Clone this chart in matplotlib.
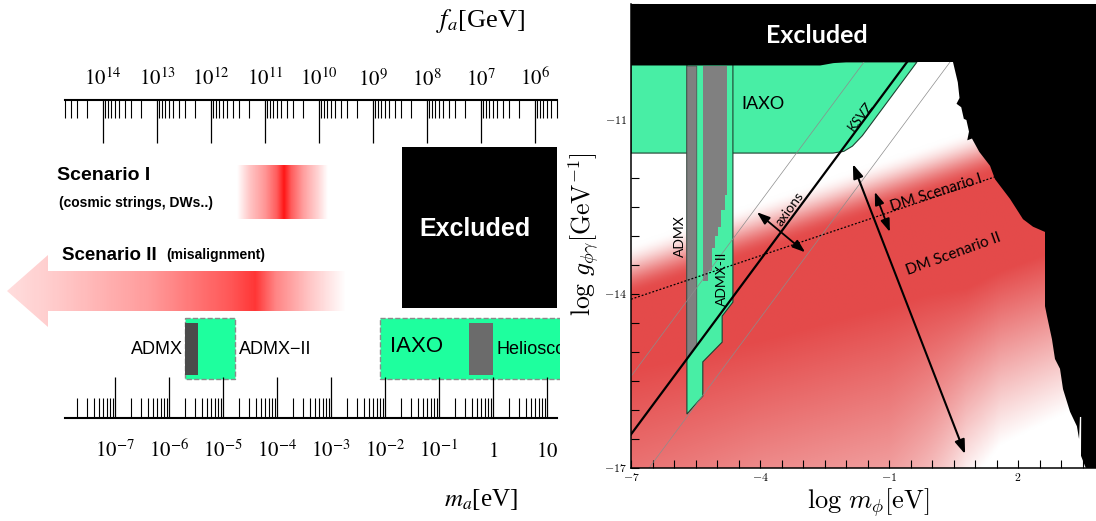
import numpy as np
import matplotlib
matplotlib.use('Agg')
import matplotlib.pyplot as plt
from matplotlib.patches import Polygon, Rectangle
from matplotlib.ticker import LogLocator, MultipleLocator, NullFormatter

plt.rcParams['font.family'] = ['Liberation Serif', 'DejaVu Serif']
plt.rcParams['mathtext.fontset'] = 'stix'

W, H = 1096, 521
SANS = ['Liberation Sans', 'DejaVu Sans']
GEO = ['Lato', 'DejaVu Sans']

# ---------------- left panel data (log10 of m_a in eV) ----------------
ma_ticks = [1e-7, 1e-6, 1e-5, 1e-4, 1e-3, 1e-2, 1e-1, 1, 10]
ma_labels = [r'$10^{-7}$', r'$10^{-6}$', r'$10^{-5}$', r'$10^{-4}$', r'$10^{-3}$',
             r'$10^{-2}$', r'$10^{-1}$', r'$1$', r'$10$']
fa_ticks = [1e14, 1e13, 1e12, 1e11, 1e10, 1e9, 1e8, 1e7, 1e6]
fa_labels = [r'$10^{14}$', r'$10^{13}$', r'$10^{12}$', r'$10^{11}$', r'$10^{10}$',
             r'$10^{9}$', r'$10^{8}$', r'$10^{7}$', r'$10^{6}$']
fa_ma = 6.0e6  # f_a[GeV] * m_a[eV]

admx_rng = (-5.70, -4.78)
admx_done = (-5.70, -5.46)
iaxo_rng = (-2.09, 1.40)
helio_done = (-0.44, 0.0)
excl_rng = (-1.685, 1.19)
scen1_x = [-4.74, -4.50, -4.22, -4.00, -3.87, -3.74, -3.52, -3.24, -3.06]
scen1_a = [0.0, 0.25, 0.45, 0.7, 1.0, 0.7, 0.42, 0.18, 0.0]
scen2_x = [-9.0, -8.24, -6.35, -4.87, -4.41, -4.04, -3.39, -2.74]
scen2_a = [0.15, 0.22, 0.45, 0.75, 0.9, 0.55, 0.25, 0.0]

# ---------------- right panel data (log10 m [eV], log10 g [1/GeV]) ----------------
ksvz_c = -9.42           # log g = log m + c
band_c = [-8.42, -10.42]
dm1_m = [-7.0, 1.465]
dm1_g = [-14.09, -11.98]
# lower edge of the DM II shading: full colour line and white line
shade_m = [-7.0, -4.0, -1.0, -0.1, 0.8, 1.6, 3.8]
shade_full = [-15.3, -14.8, -14.2, -14.0, -13.9, -13.6, -13.0]
shade_white = [-23.0, -21.0, -20.3, -19.0, -17.35, -16.6, -15.8]

iaxo_m = [-7.0, -0.35, -1.28, -1.62, -1.85, -2.05, -2.30, -2.50, -7.0]
iaxo_g = [-10.0, -10.0, -10.93, -11.27, -11.45, -11.54, -11.57, -11.57, -11.57]
admx2_m = [-5.70, -4.63, -4.63, -4.88, -4.88, -5.33, -5.33, -5.70]
admx2_g = [-10.0, -10.0, -14.14, -14.38, -14.83, -15.17, -15.76, -16.07]
admx_m = [-5.70, -5.47, -5.47, -5.70]
admx_g = [-10.07, -10.07, -14.89, -15.12]
admx_b_m = [-5.33, -4.77, -4.77, -4.82, -4.82, -4.90, -4.90, -4.98, -4.98, -5.05,
            -5.05, -5.12, -5.12, -5.22, -5.22, -5.33]
admx_b_g = [-10.07, -10.07, -12.30, -12.30, -12.55, -12.55, -12.85, -12.85, -13.0, -13.0,
            -13.2, -13.2, -13.6, -13.6, -13.78, -13.78]
excl_m = [-7.0, -7.0, -2.6, -2.3, -2.0, 0.488, 0.60, 0.64, 0.57, 0.68, 0.74, 0.80, 0.86,
          0.82, 0.93, 1.10, 1.35, 1.465, 1.814, 2.116, 2.349, 2.628, 2.628, 2.674, 2.79,
          2.86, 2.977, 3.047, 3.21, 3.37, 3.42, 3.44, 3.47, 3.465, 3.56, 3.58, 3.9, 3.9]
excl_g = [-9.0, -10.06, -10.06, -10.02, -10.0, -10.0, -10.35, -10.62, -10.72, -10.78,
          -10.98, -11.0, -11.2, -11.35, -11.32, -11.55, -11.79, -12.02, -12.36, -12.71,
          -12.84, -12.93, -14.21, -14.38, -14.78, -15.12, -15.29, -15.64, -16.03, -16.28,
          -16.5, -16.12, -16.12, -16.79, -16.97, -17.0, -17.0, -9.0]


def L(px):
    # left panel pixel column -> log10(m_a / eV)
    return -7 + (px - 115) / 54.0


fig = plt.figure(figsize=(W / 100, H / 100), dpi=100)

# ================= LEFT PANEL =================
ax_l = fig.add_axes([0, 0, 560 / W, 1])

# scenario I gradient
xs = np.linspace(scen1_x[0], scen1_x[-1], 400)
img = np.zeros((1, xs.size, 4))
img[..., 0] = 1.0
img[..., 1] = 0.08
img[..., 2] = 0.08
img[..., 3] = np.interp(xs, scen1_x, scen1_a)
ax_l.imshow(img, extent=(scen1_x[0], scen1_x[-1], 219, 165), aspect='auto',
            interpolation='bilinear', zorder=1)

# scenario II arrow with gradient
arrow = Polygon([(L(7), 291), (L(48), 255), (L(48), 271), (L(345), 271), (L(345), 311),
                 (L(48), 311), (L(48), 327)], closed=True, facecolor='none',
                edgecolor='none', transform=ax_l.transData)
ax_l.add_patch(arrow)
xs = np.linspace(scen2_x[0], scen2_x[-1], 600)
img = np.zeros((1, xs.size, 4))
img[..., 0] = 1.0
img[..., 1] = 0.12
img[..., 2] = 0.12
img[..., 3] = np.interp(xs, scen2_x, scen2_a)
im2 = ax_l.imshow(img, extent=(scen2_x[0], scen2_x[-1], 327, 255), aspect='auto',
                  interpolation='bilinear', zorder=1)
im2.set_clip_path(arrow)

# excluded box
ax_l.add_patch(Rectangle((excl_rng[0], 147), excl_rng[1] - excl_rng[0], 161,
                         facecolor='black', edgecolor='none', zorder=2))
ax_l.text(L(475), 229, 'Excluded', color='white', fontsize=18, fontweight='bold',
          family=SANS, ha='center', va='center', zorder=3)

# experiments
for rng, done, dc in [(admx_rng, admx_done, '#4b4b4b'), (iaxo_rng, helio_done, '#6b6b6b')]:
    ax_l.add_patch(Rectangle((rng[0], 318), rng[1] - rng[0], 61, facecolor='#1eff9e',
                             edgecolor='#8a8a8a', linestyle='--', lw=1.0, zorder=2))
    ax_l.add_patch(Rectangle((done[0], 323), done[1] - done[0], 52, facecolor=dc,
                             edgecolor='none', zorder=3))

ax_l.text(L(183), 350, 'ADMX', fontsize=13, family=SANS, ha='right', va='center')
ax_l.text(L(239), 350, 'ADMX\u2212II', fontsize=13, family=SANS, ha='left', va='center')
ax_l.text(L(390), 347, 'IAXO', fontsize=16, family=SANS, ha='left', va='center', zorder=4)
ax_l.text(L(496), 350, 'Helioscopes', fontsize=13, family=SANS, ha='left', va='center',
          zorder=4, clip_on=True)

ax_l.text(L(57), 176, 'Scenario I', fontsize=14, fontweight='bold', family=SANS,
          ha='left', va='center')
ax_l.text(L(59), 203, '(cosmic strings, DWs..)', fontsize=10, fontweight='bold',
          family=SANS, ha='left', va='center')
ax_l.text(L(62), 255, 'Scenario II', fontsize=13.5, fontweight='bold', family=SANS,
          ha='left', va='center')
ax_l.text(L(166), 255, '(misalignment)', fontsize=10, fontweight='bold', family=SANS,
          ha='left', va='center')

ax_l.text(L(480), 21, r'$f_a$[GeV]', fontsize=19, ha='center', va='center')
ax_l.text(L(481), 499, r'$m_a$[eV]', fontsize=18, ha='center', va='center')

ax_l.set_xlim(L(0), L(560))
ax_l.set_ylim(H, 0)
ax_l.axis('off')

# bottom m_a axis
ax_m = fig.add_axes([65 / W, 1 - 418 / H, (557 - 65) / W, 1e-4])
ax_m.set_xscale('log')
ax_m.set_xlim(10 ** L(65), 10 ** L(557))
ax_m.set_xticks(ma_ticks, ma_labels)
ax_m.xaxis.set_minor_locator(LogLocator(10, subs=np.arange(2, 10), numticks=100))
ax_m.xaxis.set_minor_formatter(NullFormatter())
ax_m.tick_params(axis='x', which='major', direction='in', length=29.5, width=0.9,
                 pad=28, labelsize=15)
ax_m.tick_params(axis='x', which='minor', direction='in', length=14.4, width=0.8)
for lbl in ax_m.get_xticklabels():
    lbl.set_verticalalignment('baseline')

# top f_a axis
ax_f = fig.add_axes([65 / W, 1 - 100 / H, (557 - 65) / W, 1e-4])
ax_f.set_xscale('log')
ax_f.set_xlim(fa_ma / 10 ** L(65), fa_ma / 10 ** L(557))
ax_f.xaxis.tick_top()
ax_f.set_xticks(fa_ticks, fa_labels)
ax_f.xaxis.set_minor_locator(LogLocator(10, subs=np.arange(2, 10), numticks=100))
ax_f.xaxis.set_minor_formatter(NullFormatter())
ax_f.tick_params(axis='x', which='major', direction='in', length=31, width=0.9,
                 pad=10.5, labelsize=15)
ax_f.tick_params(axis='x', which='minor', direction='in', length=13, width=0.8)
for lbl in ax_f.get_xticklabels():
    lbl.set_verticalalignment('baseline')

for a, side in [(ax_m, 'bottom'), (ax_f, 'top')]:
    for s in ['top', 'bottom', 'left', 'right']:
        a.spines[s].set_visible(s == side)
    a.spines[side].set_linewidth(1.5)
    a.yaxis.set_visible(False)
    a.patch.set_visible(False)

# ================= RIGHT PANEL =================
xr = (-7.0, -7.0 + (1096 - 631) / 43.0)
ax_r = fig.add_axes([631 / W, 1 - 468 / H, (1096 - 631) / W, 464 / H])

# DM band colouring
mx = np.linspace(xr[0], xr[1], 700)
gy = np.linspace(-17, -9, 560)
X, Y = np.meshgrid(mx, gy)
dm = dm1_g[0] + (dm1_g[1] - dm1_g[0]) / (dm1_m[1] - dm1_m[0]) * (X - dm1_m[0])
t_up = np.clip((dm + 0.95 - Y) / 0.9, 0, 1)
t_up = t_up * t_up * (3 - 2 * t_up)
lw_line = np.interp(X, shade_m, shade_white)
fu_line = np.interp(X, shade_m, shade_full)
t_lo = np.clip((Y - lw_line) / (fu_line - lw_line), 0, 1)
I = t_up * t_lo
red = np.array([228, 74, 74]) / 255.0
rgb = 1 - I[..., None] * (1 - red)
ax_r.imshow(rgb, extent=(xr[0], xr[1], -17, -9), origin='lower', aspect='auto',
            interpolation='bilinear', zorder=0)

ax_r.add_patch(Polygon(list(zip(iaxo_m, iaxo_g)), closed=True, facecolor='#48eea5',
                       edgecolor='#1f3f30', lw=0.8, zorder=2))
ax_r.add_patch(Polygon(list(zip(admx2_m, admx2_g)), closed=True, facecolor='#48eea5',
                       edgecolor='#1f3f30', lw=0.8, zorder=2))
ax_r.add_patch(Polygon(list(zip(admx_m, admx_g)), closed=True, facecolor='#808080',
                       edgecolor='#4a4a4a', lw=0.5, zorder=3))
ax_r.add_patch(Polygon(list(zip(admx_b_m, admx_b_g)), closed=True, facecolor='#808080',
                       edgecolor='none', zorder=3))

mm = np.array(xr)
for c in band_c:
    ax_r.plot(mm, mm + c, color='#8c8c8c', lw=0.5, zorder=4)
ax_r.plot(mm, mm + ksvz_c, color='black', lw=1.6, zorder=4)
ax_r.plot(dm1_m, dm1_g, color='black', lw=0.9, ls=(0, (1.5, 1.5)), zorder=4)

ax_r.add_patch(Polygon(list(zip(excl_m, excl_g)), closed=True, facecolor='black',
                       edgecolor='none', zorder=6))


def darrow(p0, p1, lw, ms):
    ax_r.annotate('', xy=p1, xytext=p0, zorder=5,
                  arrowprops=dict(arrowstyle='<|-|>,head_length=0.7,head_width=0.25',
                                  color='black', lw=lw, mutation_scale=ms,
                                  shrinkA=0, shrinkB=0))


darrow((-4.07, -12.59), (-2.95, -13.28), 1.3, 11)
darrow((-1.33, -12.24), (-0.98, -12.93), 1.3, 11)
darrow((-1.84, -11.76), (0.77, -16.76), 1.5, 12)

ax_r.text(-2.67, -9.55, 'Excluded', color='white', fontsize=18, fontweight='bold',
          family=GEO, ha='center', va='center', zorder=7)
ax_r.text(-3.93, -10.72, 'IAXO', fontsize=13, family=GEO, ha='center', va='center', zorder=5)
ax_r.text(-1.67, -10.93, 'KSVZ', fontsize=9.5, family=GEO, ha='center', va='center',
          rotation=53, zorder=5)
ax_r.text(-5.86, -13.0, 'ADMX', fontsize=10, family=GEO, ha='center', va='center',
          rotation=90, zorder=5)
ax_r.text(-4.88, -13.74, 'ADMX-II', fontsize=10, family=GEO, ha='center', va='center',
          rotation=90, zorder=5)
ax_r.text(-3.30, -12.53, 'axions', fontsize=10, family=GEO, ha='center', va='center',
          rotation=54, zorder=5)
ax_r.text(0.10, -12.25, 'DM Scenario I', fontsize=11, family=GEO, ha='center',
          va='center', rotation=17.5, zorder=5)
ax_r.text(0.49, -13.31, 'DM Scenario II', fontsize=11, family=GEO, ha='center',
          va='center', rotation=20, zorder=5)

ax_r.set_xlim(*xr)
ax_r.set_ylim(-17, -9)
ax_r.set_xticks([-7, -4, -1, 2], [r'$-7$', r'$-4$', r'$-1$', r'$2$'],
                math_fontfamily='cm', fontsize=8.5)
ax_r.set_yticks([-17, -14, -11], [r'$-17$', r'$-14$', r'$-11$'],
                math_fontfamily='cm', fontsize=8.5)
ax_r.xaxis.set_minor_locator(MultipleLocator(0.5))
ax_r.yaxis.set_minor_locator(MultipleLocator(0.5))
ax_r.tick_params(which='both', direction='in', length=5.8, width=0.8, pad=3)
for s in ['top', 'right']:
    ax_r.spines[s].set_visible(False)
for s in ['left', 'bottom']:
    ax_r.spines[s].set_linewidth(1.1)
    ax_r.spines[s].set_zorder(8)

fig.text(868 / W, 1 - 503 / H, r'$\log\, m_{\phi}[\mathrm{eV}]$', fontsize=19,
         math_fontfamily='cm', ha='center', va='center')
fig.text(584 / W, 1 - 234 / H, r'$\log\, g_{\phi\gamma}[\mathrm{GeV}^{-1}]$', fontsize=18.5,
         math_fontfamily='cm', ha='center', va='center', rotation=90)

fig.savefig('out.png', dpi=100, facecolor='white')
